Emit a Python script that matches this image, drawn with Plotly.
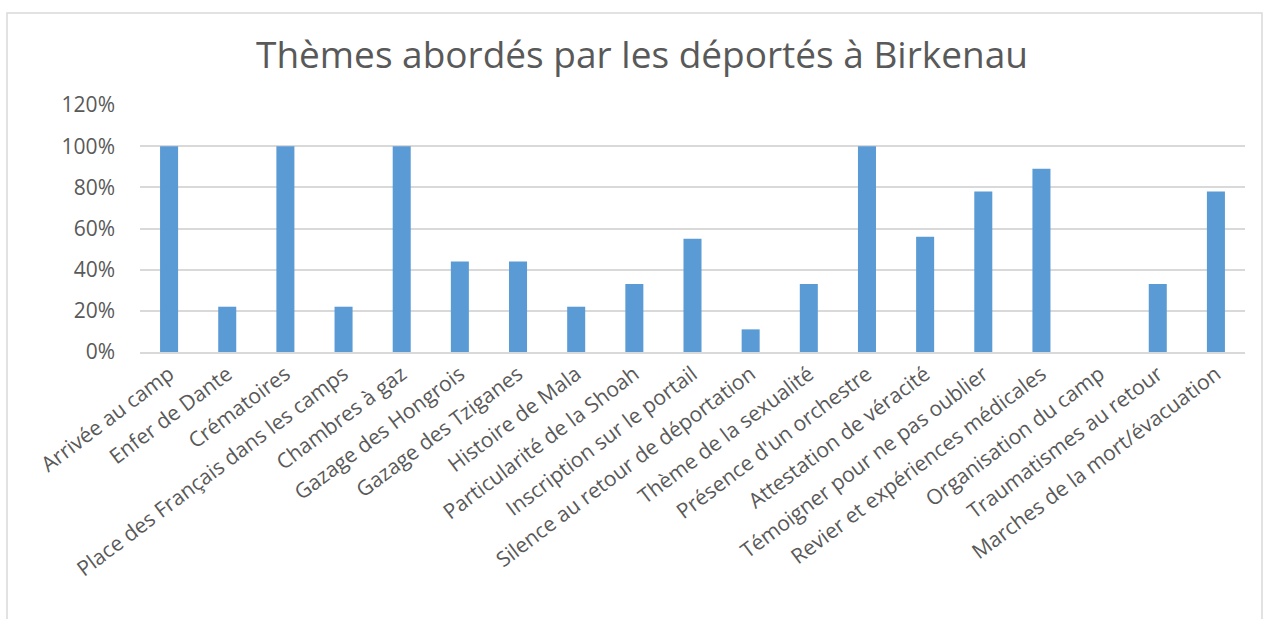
import plotly.graph_objects as go

categories = [
    "Arrivée au camp", "Enfer de Dante", "Crématoires",
    "Place des Français dans les camps", "Chambres à gaz",
    "Gazage des Hongrois", "Gazage des Tziganes", "Histoire de Mala",
    "Particularité de la Shoah", "Inscription sur le portail",
    "Silence au retour de déportation", "Thème de la sexualité",
    "Présence d'un orchestre", "Attestation de véracité",
    "Témoigner pour ne pas oublier", "Revier et expériences médicales",
    "Organisation du camp", "Traumatismes au retour",
    "Marches de la mort/évacuation",
]
values = [1.00, 0.22, 1.00, 0.22, 1.00, 0.44, 0.44, 0.22, 0.33, 0.55,
          0.11, 0.33, 1.00, 0.56, 0.78, 0.89, 0.00, 0.33, 0.78]
y_ticks = [0, 0.2, 0.4, 0.6, 0.8, 1.0, 1.2]
y_tick_labels = ["0%", "20%", "40%", "60%", "80%", "100%", "120%"]

FONT = "Open Sans"
GREY = "#595959"

fig = go.Figure(go.Bar(
    x=categories, y=values,
    marker=dict(color="#5B9BD5", line=dict(width=0)),
    width=0.31,
))

W, H = 1269, 619
ml, mr, mt, mb = 140, 24, 105, 267
pw, ph = W - ml - mr, H - mt - mb

def px(x):
    return (x - ml) / pw

def py(y):
    return (H - mb - y) / ph

fig.update_layout(
    width=W, height=H,
    margin=dict(l=ml, r=mr, t=mt, b=mb, autoexpand=False),
    paper_bgcolor="white", plot_bgcolor="white",
    font=dict(family=FONT, color=GREY, size=20),
    title=dict(text="Thèmes abordés par les déportés à Birkenau",
               x=px(642), xref="paper", xanchor="center",
               y=1 - 55 / H, yanchor="middle",
               font=dict(family=FONT, size=37, color=GREY)),
    showlegend=False,
    xaxis=dict(tickangle=-37, showgrid=False, showline=True,
               linecolor="#D9D9D9", linewidth=1.5, ticks="",
               tickfont=dict(size=21, color=GREY), automargin=False),
    yaxis=dict(range=[0, 1.2], tickvals=y_ticks, ticktext=y_tick_labels,
               showgrid=True, gridcolor="#D9D9D9", gridwidth=1.5,
               zeroline=False, showline=False, ticks="",
               ticklabelstandoff=24,
               tickfont=dict(size=21, color=GREY), automargin=False),
    shapes=[dict(type="rect", xref="paper", yref="paper",
                 x0=px(7), x1=px(1262), y0=py(640), y1=py(13),
                 line=dict(color="#D9D9D9", width=1.5), layer="below")],
)

fig.write_html("out.html", config={"displayModeBar": False},
               post_script="document.body.style.margin='0';")
